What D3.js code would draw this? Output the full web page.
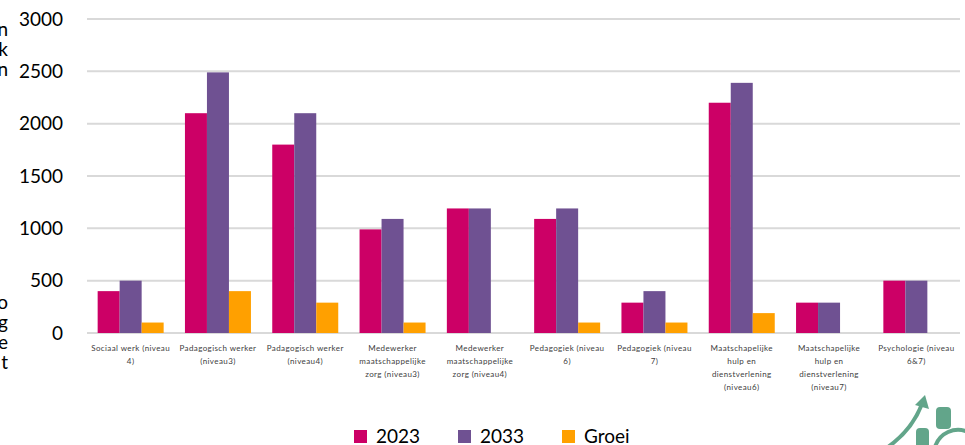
<!DOCTYPE html>
<html>
<head>
<meta charset="utf-8">
<script src="https://cdn.jsdelivr.net/npm/d3@7"></script>
<style>
  body { margin:0; background:#fff; }
  svg { display:block; font-family: Lato, "Open Sans", sans-serif; }
</style>
</head>
<body>
<svg id="chart" width="965" height="445"></svg>
<script>
// data
var categories = [
  ["Sociaal werk (niveau", "4)"],
  ["Padagogisch werker", "(niveau3)"],
  ["Padagogisch werker", "(niveau4)"],
  ["Medewerker", "maatschappelijke", "zorg (niveau3)"],
  ["Medewerker", "maatschappelijke", "zorg (niveau4)"],
  ["Pedagogiek (niveau", "6)"],
  ["Pedagogiek (niveau", "7)"],
  ["Maatschapelijke", "hulp en", "dienstverlening", "(niveau6)"],
  ["Maatschapelijke", "hulp en", "dienstverlening", "(niveau7)"],
  ["Psychologie (niveau", "6&7)"]
];
var values2023 = [400, 2100, 1800, 990, 1190, 1090, 290, 2200, 290, 500];
var values2033 = [500, 2490, 2100, 1090, 1190, 1190, 400, 2390, 290, 500];
var valuesGroei = [100, 400, 290, 100, 0, 100, 100, 190, 0, 0];
var seriesNames = ["2023", "2033", "Groei"];
var yTicks = [0, 500, 1000, 1500, 2000, 2500, 3000];
var leftCut = [["n", 30], ["k", 50], ["n", 70], ["o", 303], ["g", 323], ["e", 343], ["t", 363]];

var colors = {"2023": "#cc0066", "2033": "#6f5192", "Groei": "#ffa000"};

var svg = d3.select("#chart");
var pl = 87, pr = 960, pt = 19, pb = 333;

var x0 = d3.scaleBand().domain(d3.range(categories.length)).range([pl, pr]).padding(0);
var x1 = d3.scaleBand().domain(seriesNames)
    .range([x0.bandwidth()*0.122, x0.bandwidth()*0.878]).padding(0);
var y = d3.scaleLinear().domain([0, 3000]).range([pb, pt]);

// gridlines
svg.append("g").selectAll("line").data(yTicks).enter().append("line")
  .attr("x1", pl).attr("x2", pr)
  .attr("y1", function(d){return y(d);}).attr("y2", function(d){return y(d);})
  .attr("stroke", "#d9d9d9").attr("stroke-width", 2);

// y axis labels
var yAxis = svg.append("g").attr("transform", "translate(63,0)")
  .call(d3.axisLeft(y).tickValues(yTicks).tickSize(0).tickPadding(0).tickFormat(d3.format("d")));
yAxis.select(".domain").remove();
yAxis.selectAll("text").attr("font-size", 19).attr("fill", "#000").attr("font-family", "Lato, sans-serif");

// bars
var rows = categories.map(function(c, i){
  return {i: i, vals: [values2023[i], values2033[i], valuesGroei[i]]};
});
var groups = svg.append("g").selectAll("g").data(rows).enter().append("g")
  .attr("transform", function(d){return "translate(" + x0(d.i) + ",0)";});
groups.selectAll("rect").data(function(d){
    return seriesNames.map(function(s, k){return {key: s, value: d.vals[k]};});
  }).enter().append("rect")
  .attr("x", function(d){return x1(d.key);})
  .attr("width", x1.bandwidth())
  .attr("y", function(d){return y(d.value);})
  .attr("height", function(d){return y(0) - y(d.value);})
  .attr("fill", function(d){return colors[d.key];});

// category labels
var lab = svg.append("g").selectAll("text").data(categories).enter().append("text")
  .attr("text-anchor", "middle")
  .attr("font-size", 8).attr("fill", "#404040")
  .attr("letter-spacing", 0.4)
  .attr("transform", function(d, i){return "translate(" + (x0(i) + x0.bandwidth()/2) + ",351)";});
lab.selectAll("tspan").data(function(d){return d;}).enter().append("tspan")
  .attr("x", 0).attr("y", function(d, k){return k*13;})
  .text(function(d){return d;});

// legend
var legendX = [354, 458, 562];
var lg = svg.append("g").selectAll("g").data(seriesNames).enter().append("g")
  .attr("transform", function(d, i){return "translate(" + legendX[i] + ",430)";});
lg.append("rect").attr("x", 0).attr("y", 0).attr("width", 13).attr("height", 13)
  .attr("fill", function(d){return colors[d];});
lg.append("text").attr("x", 22).attr("y", 13).attr("font-size", 19).attr("fill", "#000")
  .text(function(d){return d;});

// cropped text from the neighbouring column
svg.append("g").selectAll("text").data(leftCut).enter().append("text")
  .attr("x", 8).attr("y", function(d){return d[1] + 6;})
  .attr("text-anchor", "end").attr("font-size", 19).attr("fill", "#000")
  .text(function(d){return d[0];});

// logo fragment, bottom right
var logo = svg.append("g").attr("fill", "#62a58a").attr("stroke", "#62a58a");
logo.append("path").attr("fill", "none").attr("stroke-width", 4)
  .attr("d", "M888,447 Q912,430 922,404");
logo.append("path").attr("stroke", "none").attr("d", "M915,405 L925,395 L929,409 Z");
logo.append("rect").attr("stroke", "none").attr("x", 936).attr("y", 407).attr("width", 15).attr("height", 22).attr("rx", 4);
logo.append("rect").attr("stroke", "none").attr("x", 916).attr("y", 428).attr("width", 13).attr("height", 20).attr("rx", 4);
logo.append("path").attr("fill", "none").attr("stroke-width", 4)
  .attr("d", "M935,447 A24,24 0 0 1 968,432");
</script>
</body>
</html>
